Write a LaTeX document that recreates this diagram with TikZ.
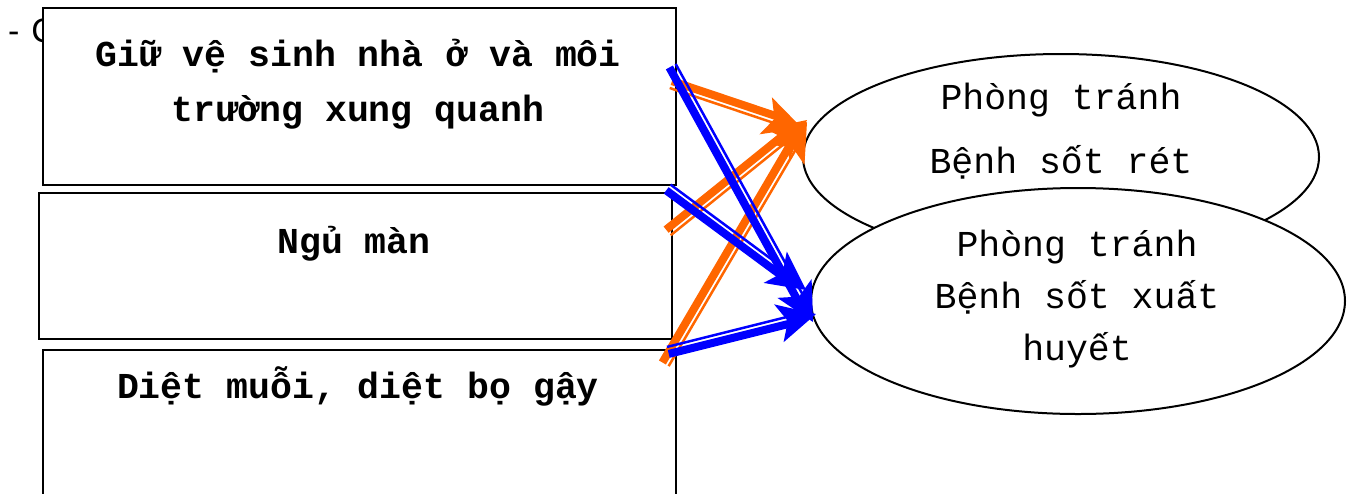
\documentclass[tikz,border=0pt]{standalone}
\usepackage{fontspec}
\setmainfont{Liberation Sans}
\setmonofont{Liberation Mono}
\usetikzlibrary{calc,shapes.geometric}
\definecolor{arrorange}{RGB}{255,102,0}
\definecolor{arrblue}{RGB}{0,0,255}
\tikzset{
  boxshape/.style={draw=black, line width=2pt, fill=white, rectangle, inner sep=0pt},
  ellshape/.style={draw=black, line width=2pt, fill=white, ellipse, inner sep=0pt},
  boxtext/.style={font=\ttfamily\bfseries\fontsize{36.5}{55}\selectfont, align=center, inner sep=0pt},
  elltexta/.style={font=\ttfamily\fontsize{36.5}{64}\selectfont, align=center, inner sep=0pt},
  elltextb/.style={font=\ttfamily\fontsize{36.5}{52}\selectfont, align=center, inner sep=0pt},
  thickpart/.style={line width=8pt},
  thinpart/.style={line width=2.5pt},
}
% #1 colour, #2 start, #3 end, #4 side of thick line, #5 side of thin line
\newcommand\dblarrow[5]{%
  \coordinate (tmpP) at ($(#3)!22pt!(#2)$);
  \draw[#1, thickpart] ($(#2)!3pt!#4:(#3)$) -- ($(tmpP)!3pt!#4:(#3)$);
  \draw[#1, thinpart] ($(#2)!4.2pt!#5:(#3)$) -- ($(tmpP)!4.2pt!#5:(#3)$);
  \fill[#1] (#3) -- ($(#3)!43pt!27:(#2)$) -- ($(#3)!29pt!(#2)$) -- ($(#3)!43pt!-27:(#2)$) -- cycle;
}
\begin{document}
\begin{tikzpicture}[x=1pt,y=1pt]
\useasboundingbox (0,0) rectangle (1348,-493);
\clip (0,0) rectangle (1348,-493);
\fill[white] (0,0) rectangle (1348,-493);
\node[font=\fontsize{34}{40}\selectfont, anchor=base west, inner sep=0pt] (lead) at (8,-42) {-\hspace{12pt}C};
% boxes
\node[boxshape, minimum width=633pt, minimum height=177pt, anchor=north west] (box1) at (42,-7) {};
\node[boxshape, minimum width=633pt, minimum height=146pt, anchor=north west] (box2) at (38,-192) {};
\node[boxshape, minimum width=633pt, minimum height=170pt, anchor=north west] (box3) at (42,-349) {};
\node[boxtext, anchor=base] (t1) at (358,-121) {Giữ vệ sinh nhà ở và môi\\trường xung quanh};
\node[boxtext, anchor=base] (t2) at (354,-253) {Ngủ màn};
\node[boxtext, anchor=base] (t3) at (358,-398) {Diệt muỗi, diệt bọ gậy};
% ellipses
\node[ellshape, minimum width=516pt, minimum height=206pt] (e1) at (1061,-157) {};
\node[elltexta, anchor=base] (et1) at (1061,-173) {Phòng tránh\\Bệnh sốt rét};
\node[ellshape, minimum width=534pt, minimum height=226pt] (e2) at (1078,-301) {};
\node[elltextb, anchor=base] (et2) at (1077,-360) {Phòng tránh\\Bệnh sốt xuất\\huyết};
% arrow end points
\coordinate (oas) at (671,-84);  \coordinate (oae) at (802,-128);
\coordinate (obs) at (668,-232); \coordinate (obe) at (807,-120);
\coordinate (ocs) at (665,-364); \coordinate (oce) at (807,-122);
\coordinate (bas) at (672,-66);  \coordinate (bae) at (813,-322);
\coordinate (bbs) at (668,-188); \coordinate (bbe) at (806,-290);
\coordinate (bcs) at (668,-351); \coordinate (bce) at (816,-314);
\dblarrow{arrorange}{oas}{oae}{90}{-90}
\dblarrow{arrorange}{obs}{obe}{90}{-90}
\dblarrow{arrorange}{ocs}{oce}{90}{-90}
\dblarrow{arrblue}{bas}{bae}{-90}{90}
\dblarrow{arrblue}{bbs}{bbe}{-90}{90}
\dblarrow{arrblue}{bcs}{bce}{-90}{90}
\end{tikzpicture}
\end{document}
